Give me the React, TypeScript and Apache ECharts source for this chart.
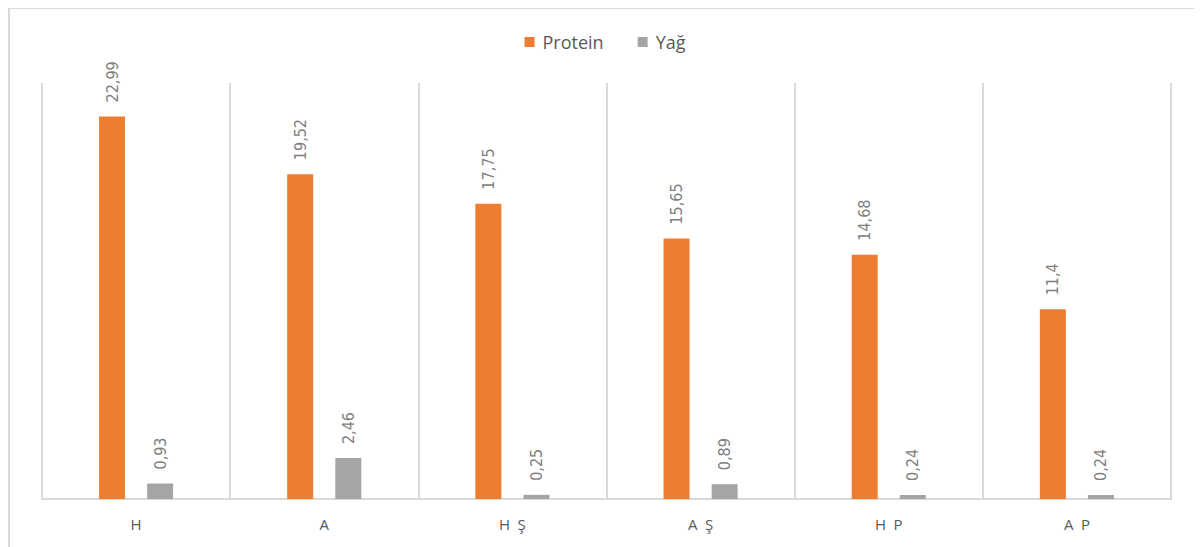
import React, { useEffect, useRef } from "react";
import * as echarts from "echarts";

const categories = ["H", "A", "H Ş", "A Ş", "H P", "A P"];
const proteinValues = [22.99, 19.52, 17.75, 15.65, 14.68, 11.4];
const fatValues = [0.93, 2.46, 0.25, 0.89, 0.24, 0.24];
const seriesNames = ["Protein", "Yağ"];

const fmt = (v: number) => String(v).replace(".", ",");

export default function App() {
  const ref = useRef<HTMLDivElement>(null);
  useEffect(() => {
    if (!ref.current) return;
    const chart = echarts.init(ref.current, undefined, { renderer: "svg" });
    const labelCfg = {
      show: true,
      position: "top",
      rotate: 90,
      align: "left",
      verticalAlign: "middle",
      distance: 14,
      color: "#808080",
      fontSize: 16,
      fontFamily: "'DejaVu Sans Condensed', 'Liberation Sans Narrow', sans-serif",
      formatter: (p: any) => fmt(p.value),
    };
    chart.setOption({
      animation: false,
      backgroundColor: "#ffffff",
      graphic: [
        {
          type: "rect",
          shape: { x: 1, y: 1, width: 3000, height: 3000 },
          style: { fill: "none", stroke: "#d9d9d9", lineWidth: 2 },
          silent: true,
        },
      ],
      legend: {
        top: 21,
        left: "center",
        itemWidth: 10,
        itemHeight: 10,
        itemGap: 34,
        icon: "rect",
        textStyle: { color: "#595959", fontSize: 18, fontFamily: "'Open Sans', sans-serif", padding: [0, 0, 0, 3] },
        data: seriesNames,
      },
      grid: { left: 34, right: 31, top: 76, bottom: 48 },
      xAxis: {
        type: "category",
        data: categories,
        axisLine: { show: true, lineStyle: { color: "#d9d9d9", width: 2 } },
        axisTick: { show: false },
        splitLine: { show: true, lineStyle: { color: "#d9d9d9", width: 2 } },
        axisLabel: {
          color: "#595959",
          fontSize: 15,
          margin: 17,
          fontFamily: "'Open Sans', sans-serif",
          formatter: (v: string) => v.replace(" ", "\u2002"),
        },
      },
      yAxis: {
        type: "value",
        min: 0,
        max: 25,
        show: false,
        splitLine: { show: false },
      },
      series: [
        {
          name: seriesNames[0],
          type: "bar",
          data: proteinValues,
          barWidth: 26,
          barGap: "85%",
          itemStyle: { color: "#ed7d31" },
          label: labelCfg,
        },
        {
          name: seriesNames[1],
          type: "bar",
          data: fatValues,
          barWidth: 26,
          barGap: "85%",
          itemStyle: { color: "#a5a5a5" },
          label: labelCfg,
        },
      ],
    });
    return () => chart.dispose();
  }, []);
  return <div ref={ref} style={{ width: 1194, height: 540, marginTop: -1 }} />;
}
